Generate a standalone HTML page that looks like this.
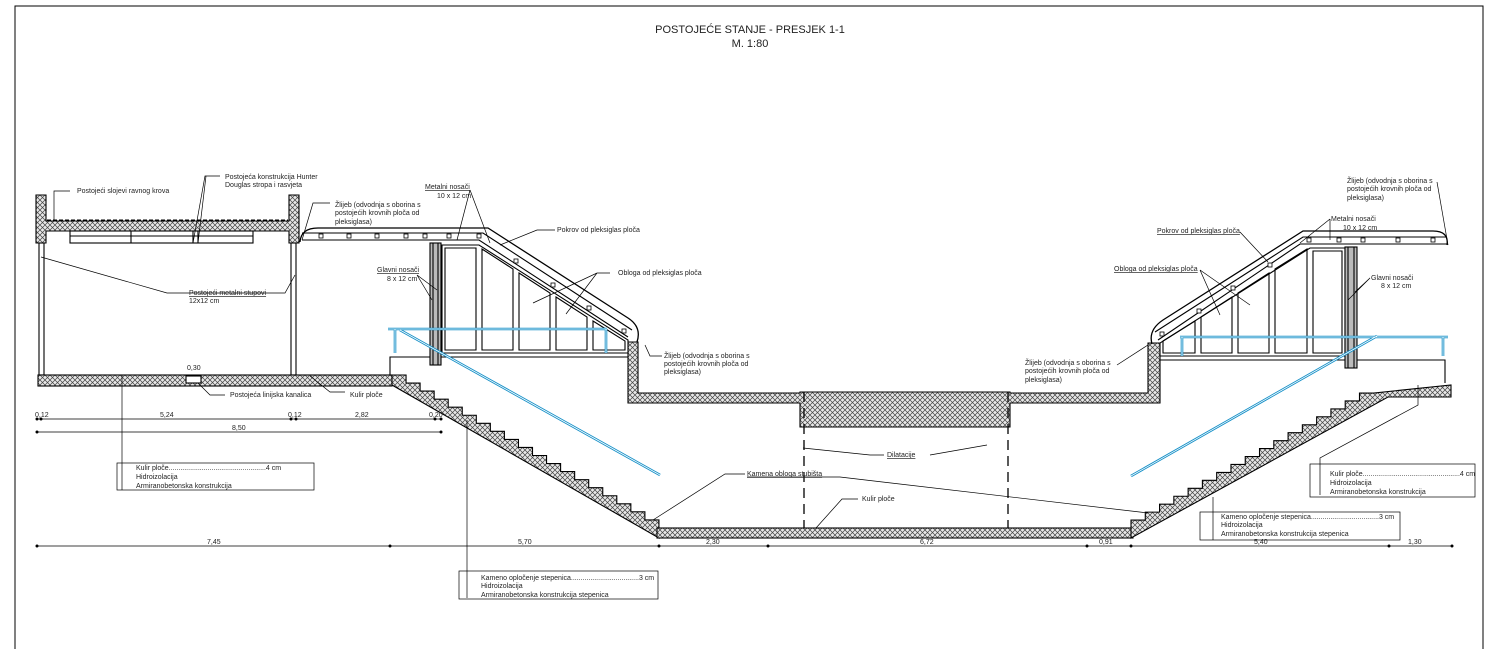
<!DOCTYPE html>
<html><head><meta charset="utf-8"><style>
html,body{margin:0;padding:0;background:#fff;}
svg{display:block;}
text{font-family:"Liberation Sans",sans-serif;font-size:7px;fill:#222;}
</style></head><body>
<svg width="1496" height="649" viewBox="0 0 1496 649" xmlns="http://www.w3.org/2000/svg">
<defs>
<pattern id="h" width="5" height="5" patternUnits="userSpaceOnUse">
<rect width="5" height="5" fill="#e8e8e8"/>
<path d="M0,0L5,5M5,0L0,5" stroke="#444" stroke-width="0.7"/>
</pattern>
</defs>
<g fill="none" stroke="#000" stroke-width="1">
<path d="M15,649V6H1483V649"/>
</g>
<text x="750" y="33" text-anchor="middle" style="font-size:11px">POSTOJEĆE STANJE - PRESJEK 1-1</text>
<text x="750" y="47" text-anchor="middle" style="font-size:11px">M. 1:80</text>

<g stroke="#000" stroke-width="1.1">
<path d="M36,195H46V221H289V195H299V243H289V231H46V243H36Z" fill="url(#h)"/>
<path d="M47,220H288" stroke-dasharray="4 2" fill="none"/>
<rect x="70" y="231" width="183" height="12" fill="none"/>
<path d="M70,236H253M131,231V243M193,231V243M198,231V243" fill="none"/>
<rect x="39" y="243" width="5" height="132" fill="none"/>
<rect x="291" y="243" width="5" height="132" fill="none"/>
<rect x="38" y="375" width="354" height="11" fill="url(#h)"/>
<rect x="186" y="376" width="15" height="7" fill="#fff"/>

<path d="M392,375 h14.05v8.05h14.05v8.05h14.05v8.05h14.05v8.05h14.05v8.05h14.05v8.05h14.05v8.05h14.05v8.05h14.05v8.05h14.05v8.05h14.05v8.05h14.05v8.05h14.05v8.05h14.05v8.05h14.05v8.05h14.05v8.05h14.05v8.05h14.05v8.05h14.05v8.05 L659,538 L392,385Z" fill="url(#h)"/>
<rect x="657" y="528" width="476" height="10" fill="url(#h)"/>
<path d="M1131,528 v-7.94h14.28v-7.94h14.28v-7.94h14.28v-7.94h14.28v-7.94h14.28v-7.94h14.28v-7.94h14.28v-7.94h14.28v-7.94h14.28v-7.94h14.28v-7.94h14.28v-7.94h14.28v-7.94h14.28v-7.94h14.28v-7.94h14.28v-7.94h14.28v-7.94h14.28 L1451,385 L1451,397 L1388,397 L1131,538Z" fill="url(#h)"/>

<path d="M628,342H638V393H800V392H1010V393H1148V343H1160V403H1010V427H800V403H628Z" fill="url(#h)"/>
<path d="M804,392V528M1008,392V528" stroke-dasharray="10 6" stroke-width="1.3" fill="none"/>

<path d="M390,375V357H628" fill="none"/>
<path d="M442,245H479L628,340V353H442Z" fill="#fff"/>
<path d="M445,248H476V350H445Z M482,249L513,269V350H482Z M519,273L550,293V350H519Z M556,297L587,317V350H556Z M593,321L625,341V350H593Z" fill="none"/>
<rect x="430" y="243" width="11" height="122" fill="#bbb"/>
<path d="M433,243V365M438,243V365" fill="none"/>
<path d="M302,233H483L632,330M302,240H479L628,337" fill="none"/>
<path d="M300,242Q301,228 318,228L488,228L628,318Q642,327 637,342" fill="none" stroke-width="1.3"/>
<g fill="#fff" stroke-width="0.8">
<rect x="319" y="234" width="4" height="4"/><rect x="347" y="234" width="4" height="4"/><rect x="375" y="234" width="4" height="4"/><rect x="404" y="234" width="4" height="4"/><rect x="423" y="234" width="4" height="4"/><rect x="447" y="234" width="4" height="4"/><rect x="477" y="234" width="4" height="4"/>
<rect x="514" y="259" width="4" height="4"/><rect x="551" y="283" width="4" height="4"/><rect x="587" y="306" width="4" height="4"/><rect x="622" y="329" width="4" height="4"/>
</g>

<path d="M1160,360H1445V383" fill="none"/>
<path d="M1345,248H1310L1160,343V356H1345Z" fill="#fff"/>
<path d="M1163,341L1195,321V353H1163Z M1201,317L1232,297V353H1201Z M1238,293L1269,273V353H1238Z M1275,269L1307,249V353H1275Z M1313,251H1342V353H1313Z" fill="none"/>
<rect x="1345" y="247" width="12" height="121" fill="#bbb"/>
<path d="M1348,247V368M1354,247V368" fill="none"/>
<path d="M1447,237H1303L1155,332M1447,244H1300L1158,340" fill="none"/>
<path d="M1447,245Q1449,231 1433,231L1303,231L1163,320Q1148,330 1152,344" fill="none" stroke-width="1.3"/>
<g fill="#fff" stroke-width="0.8">
<rect x="1307" y="238" width="4" height="4"/><rect x="1337" y="238" width="4" height="4"/><rect x="1361" y="238" width="4" height="4"/><rect x="1396" y="238" width="4" height="4"/><rect x="1431" y="238" width="4" height="4"/>
<rect x="1268" y="263" width="4" height="4"/><rect x="1231" y="286" width="4" height="4"/><rect x="1197" y="309" width="4" height="4"/><rect x="1160" y="332" width="4" height="4"/>
</g>
</g>

<g fill="none" stroke="#1590c8" stroke-width="2.6">
<path d="M388,329H607M395,329V353M606,329V353M400,330L660,475"/>
<path d="M1180,337H1448M1182,337V356M1443,337V356M1377,336L1131,476"/>
</g>
<g fill="none" stroke="#fff" stroke-width="0.8">
<path d="M388,329H607M395,329V353M606,329V353M400,330L660,475"/>
<path d="M1180,337H1448M1182,337V356M1443,337V356M1377,336L1131,476"/>
</g>

<g stroke="#000" stroke-width="0.8" fill="none">
<path d="M37,419H441M37,432H441M37,546H1452"/>
</g>
<g fill="#000">
<circle cx="37" cy="419" r="1.5"/><circle cx="41" cy="419" r="1.5"/><circle cx="291" cy="419" r="1.5"/><circle cx="296" cy="419" r="1.5"/><circle cx="435" cy="419" r="1.5"/><circle cx="441" cy="419" r="1.5"/>
<circle cx="37" cy="432" r="1.5"/><circle cx="441" cy="432" r="1.5"/>
<circle cx="37" cy="546" r="1.5"/><circle cx="390" cy="546" r="1.5"/><circle cx="659" cy="546" r="1.5"/><circle cx="768" cy="546" r="1.5"/><circle cx="1087" cy="546" r="1.5"/><circle cx="1131" cy="546" r="1.5"/><circle cx="1389" cy="546" r="1.5"/><circle cx="1452" cy="546" r="1.5"/>
</g>
<text x="35" y="417">0,12</text><text x="160" y="417">5,24</text><text x="288" y="417">0,12</text><text x="355" y="417">2,82</text><text x="429" y="417">0,20</text>
<text x="232" y="430">8,50</text>
<text x="207" y="544">7,45</text><text x="518" y="544">5,70</text><text x="706" y="544">2,30</text><text x="920" y="544">6,72</text><text x="1099" y="544">0,91</text><text x="1254" y="544">5,40</text><text x="1408" y="544">1,30</text>
<text x="187" y="370">0,30</text>

<g stroke="#000" stroke-width="0.7" fill="none">
<path d="M54,221V191H70"/>
<path d="M193,243L205,176H220M198,243L206,176"/>
<path d="M41,257L167,293H285L295,275"/>
<path d="M310,376L330,392H345"/>
<path d="M198,383L210,395H225"/>
<path d="M302,240L313,203H330"/>
<path d="M470,190L457,240M470,190L490,243"/>
<path d="M555,230H537L500,245"/>
<path d="M610,273H597L533,303M597,273L566,314"/>
<path d="M417,275L432,300M417,275L437,290"/>
<path d="M645,345L650,356H662"/>
<path d="M653,520L725,474H745"/>
<path d="M747,477H840L1148,513"/>
<path d="M816,528L842,499H858"/>
<path d="M803,448L870,455H884M930,455L987,445"/>
<path d="M122,375V490"/>
<path d="M467,420V598"/>
<path d="M1213,497V540"/>
<path d="M1418,385V405L1320,458V495"/>
<path d="M1437,182L1448,245"/>
<path d="M1330,219L1300,243M1330,219V240"/>
<path d="M1240,232L1268,262"/>
<path d="M1200,270L1220,315M1200,270L1250,305"/>
<path d="M1370,278L1348,300M1370,278L1355,292"/>
<path d="M1117,365L1148,345"/>
<rect x="117" y="463" width="197" height="27"/>
<rect x="459" y="571" width="199" height="28"/>
<rect x="1200" y="512" width="200" height="28"/>
<rect x="1310" y="464" width="165" height="33"/>
</g>

<text x="77" y="193">Postojeći slojevi ravnog krova</text>
<text x="225" y="179">Postojeća konstrukcija Hunter</text>
<text x="225" y="187">Douglas stropa i rasvjeta</text>
<text x="189" y="295" text-decoration="underline">Postojeći metalni stupovi</text>
<text x="189" y="303">12x12 cm</text>
<text x="350" y="397">Kulir ploče</text>
<text x="230" y="397">Postojeća linijska kanalica</text>
<text x="335" y="207">Žlijeb (odvodnja s oborina s</text>
<text x="335" y="215">postojećih krovnih ploča od</text>
<text x="335" y="224">pleksiglasa)</text>
<text x="425" y="189" text-decoration="underline">Metalni nosači</text>
<text x="437" y="198">10 x 12 cm</text>
<text x="557" y="232">Pokrov od pleksiglas ploča</text>
<text x="618" y="275">Obloga od pleksiglas ploča</text>
<text x="377" y="272" text-decoration="underline">Glavni nosači</text>
<text x="387" y="281">8 x 12 cm</text>
<text x="664" y="358">Žlijeb (odvodnja s oborina s</text>
<text x="664" y="366">postojećih krovnih ploča od</text>
<text x="664" y="374">pleksiglasa)</text>
<text x="747" y="476" text-decoration="underline">Kamena obloga stubišta</text>
<text x="862" y="501">Kulir ploče</text>
<text x="887" y="457" text-decoration="underline">Dilatacije</text>
<text x="1347" y="183">Žlijeb (odvodnja s oborina s</text>
<text x="1347" y="191">postojećih krovnih ploča od</text>
<text x="1347" y="200">pleksiglasa)</text>
<text x="1331" y="221">Metalni nosači</text>
<text x="1343" y="230">10 x 12 cm</text>
<text x="1157" y="233" text-decoration="underline">Pokrov od pleksiglas ploča</text>
<text x="1114" y="271" text-decoration="underline">Obloga od pleksiglas ploča</text>
<text x="1371" y="280">Glavni nosači</text>
<text x="1381" y="288">8 x 12 cm</text>
<text x="1025" y="365">Žlijeb (odvodnja s oborina s</text>
<text x="1025" y="373">postojećih krovnih ploča od</text>
<text x="1025" y="382">pleksiglasa)</text>
<text x="136" y="470">Kulir ploče..................................................4 cm</text>
<text x="136" y="479">Hidroizolacija</text>
<text x="136" y="488">Armiranobetonska konstrukcija</text>
<text x="481" y="580">Kameno opločenje stepenica...................................3 cm</text>
<text x="481" y="588">Hidroizolacija</text>
<text x="481" y="597">Armiranobetonska konstrukcija stepenica</text>
<text x="1221" y="519">Kameno opločenje stepenica...................................3 cm</text>
<text x="1221" y="527">Hidroizolacija</text>
<text x="1221" y="536">Armiranobetonska konstrukcija stepenica</text>
<text x="1330" y="476">Kulir ploče..................................................4 cm</text>
<text x="1330" y="485">Hidroizolacija</text>
<text x="1330" y="494">Armiranobetonska konstrukcija</text>
</svg>
</body></html>
